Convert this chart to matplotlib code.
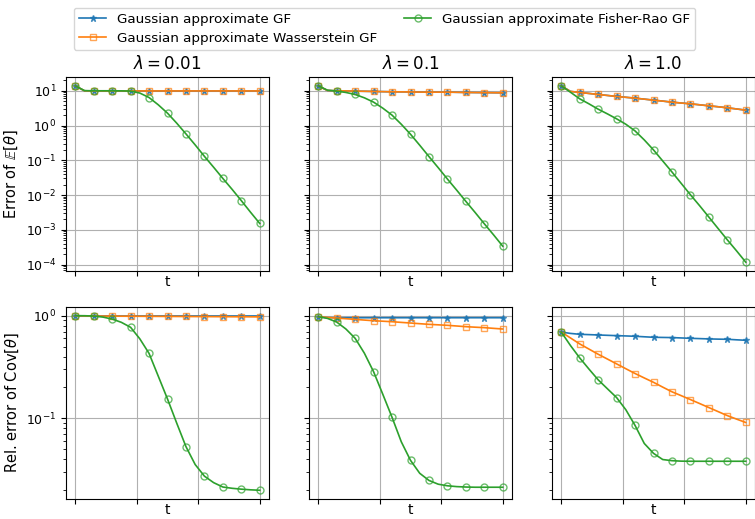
import matplotlib
matplotlib.use("Agg")
import matplotlib.pyplot as plt

# time grid (markers on every second point)
t = [0.0, 0.075, 0.15, 0.225, 0.3, 0.375, 0.45, 0.525, 0.6, 0.675, 0.75,
     0.825, 0.9, 0.975, 1.05, 1.125, 1.2, 1.275, 1.35, 1.425, 1.5]

lambdas = ["0.01", "0.1", "1.0"]
labels = ["Gaussian approximate GF", "Gaussian approximate Wasserstein GF",
          "Gaussian approximate Fisher-Rao GF"]

# error of E[theta]
mean_gf_001 = [13.9, 10.0, 9.9, 9.9, 9.9, 9.9, 9.9, 9.9, 9.9, 9.9, 9.9,
               9.9, 9.9, 9.9, 9.9, 9.9, 9.9, 9.9, 9.9, 9.9, 9.9]
mean_w_001 = [13.9, 10.0, 9.9, 9.9, 9.9, 9.9, 9.9, 9.9, 9.9, 9.9, 9.9,
              9.9, 9.9, 9.9, 9.9, 9.9, 9.9, 9.9, 9.9, 9.9, 9.9]
mean_fr_001 = [13.9, 10.1, 10.0, 10.0, 10.0, 9.95, 9.8, 8.6, 6.4, 3.95, 2.27,
               1.17, 0.575, 0.277, 0.13, 0.063, 0.030, 0.0146, 0.0069, 0.0032, 0.00152]

mean_gf_01 = [13.9, 10.2, 10.0, 9.9, 9.78, 9.68, 9.57, 9.46, 9.36, 9.31, 9.26,
              9.2, 9.15, 9.15, 9.15, 9.05, 8.95, 8.9, 8.85, 8.8, 8.75]
mean_w_01 = [13.9, 10.2, 10.0, 9.9, 9.78, 9.68, 9.57, 9.46, 9.36, 9.31, 9.26,
             9.2, 9.15, 9.15, 9.15, 9.05, 8.95, 8.9, 8.85, 8.8, 8.75]
mean_fr_01 = [13.9, 10.4, 9.8, 8.95, 7.84, 6.28, 4.71, 3.16, 1.99, 1.09, 0.562,
              0.271, 0.128, 0.0614, 0.0289, 0.0139, 0.00657, 0.00316, 0.00149, 0.000717, 0.000337]

mean_gf_1 = [13.9, 9.6, 8.95, 8.4, 7.84, 7.35, 6.86, 6.5, 6.14, 5.75, 5.38,
             5.05, 4.71, 4.45, 4.22, 3.95, 3.70, 3.47, 3.24, 3.0, 2.77]
mean_w_1 = [13.9, 9.6, 8.95, 8.4, 7.84, 7.35, 6.86, 6.5, 6.14, 5.75, 5.38,
            5.05, 4.71, 4.45, 4.22, 3.95, 3.70, 3.47, 3.24, 3.0, 2.77]
mean_fr_1 = [13.9, 9.1, 5.88, 4.22, 2.96, 2.17, 1.56, 1.09, 0.70, 0.386, 0.199,
             0.0956, 0.0461, 0.0217, 0.0102, 0.00493, 0.00232, 0.00109, 0.000514, 0.000248, 0.000117]

# relative error of Cov[theta]
cov_gf_001 = [1.0, 0.997, 0.995, 0.995, 0.995, 0.995, 0.995, 0.995, 0.995, 0.995, 0.995,
              0.995, 0.995, 0.995, 0.995, 0.995, 0.995, 0.995, 0.995, 0.995, 0.995]
cov_w_001 = [1.0, 0.996, 0.993, 0.992, 0.991, 0.99, 0.989, 0.988, 0.987, 0.986, 0.985,
             0.984, 0.983, 0.982, 0.981, 0.98, 0.979, 0.978, 0.977, 0.976, 0.975]
cov_fr_001 = [1.0, 1.0, 0.993, 0.970, 0.928, 0.862, 0.771, 0.595, 0.429, 0.257, 0.154,
              0.0895, 0.0528, 0.0353, 0.0272, 0.0235, 0.0213, 0.0207, 0.0203, 0.0200, 0.0198]

cov_gf_01 = [0.978, 0.958, 0.956, 0.956, 0.956, 0.956, 0.956, 0.956, 0.956, 0.956, 0.956,
             0.956, 0.956, 0.956, 0.956, 0.956, 0.956, 0.956, 0.956, 0.956, 0.956]
cov_w_01 = [0.978, 0.963, 0.949, 0.935, 0.921, 0.907, 0.894, 0.884, 0.874, 0.861, 0.849,
            0.836, 0.824, 0.815, 0.806, 0.794, 0.782, 0.773, 0.765, 0.753, 0.742]
cov_fr_01 = [0.978, 0.942, 0.868, 0.742, 0.602, 0.431, 0.284, 0.171, 0.102, 0.0589, 0.0388,
             0.029, 0.0247, 0.0227, 0.0219, 0.0215, 0.0213, 0.0212, 0.0212, 0.0212, 0.0212]

cov_gf_1 = [0.694, 0.672, 0.659, 0.654, 0.649, 0.644, 0.639, 0.635, 0.630, 0.623, 0.616,
            0.614, 0.612, 0.607, 0.602, 0.598, 0.594, 0.591, 0.589, 0.582, 0.576]
cov_w_1 = [0.694, 0.607, 0.531, 0.473, 0.421, 0.378, 0.339, 0.304, 0.273, 0.247, 0.224,
           0.201, 0.181, 0.166, 0.152, 0.139, 0.127, 0.116, 0.106, 0.098, 0.0908]
cov_fr_1 = [0.694, 0.512, 0.388, 0.302, 0.237, 0.194, 0.159, 0.121, 0.085, 0.0567, 0.0454,
            0.0395, 0.0385, 0.0381, 0.038, 0.038, 0.038, 0.038, 0.038, 0.038, 0.038]

mean_err = [[mean_gf_001, mean_w_001, mean_fr_001],
            [mean_gf_01, mean_w_01, mean_fr_01],
            [mean_gf_1, mean_w_1, mean_fr_1]]
cov_err = [[cov_gf_001, cov_w_001, cov_fr_001],
           [cov_gf_01, cov_w_01, cov_fr_01],
           [cov_gf_1, cov_w_1, cov_fr_1]]

colors = ["#1f77b4", "#ff7f0e", "#2ca02c"]
markers = ["*", "s", "o"]

fig = plt.figure(figsize=(7.55, 5.19), dpi=100)

lefts = [66/755, 309/755, 552/755]
w = 203/755
h = 194/519
ax_top = []
ax_bot = []
for i in range(3):
    a = fig.add_axes([lefts[i], 248/519, w, h], sharey=ax_top[0] if i else None)
    b = fig.add_axes([lefts[i], 20/519, w, 192/519], sharey=ax_bot[0] if i else None)
    ax_top.append(a)
    ax_bot.append(b)

def draw(ax, series):
    for k in range(3):
        c = matplotlib.colors.to_rgba(colors[k])
        fc = c if markers[k] == "*" else "none"
        ax.plot(t, series[k], color=colors[k], lw=1.2, marker=markers[k], markevery=2,
                ms=5, mfc=fc, mec=(c[0], c[1], c[2], 0.7),
                mew=1.0, label=labels[k])
    ax.set_yscale("log")
    ax.set_xticks([0, 0.5, 1.0, 1.5])
    ax.set_xticklabels([])
    ax.grid(True, which="major", color="#b0b0b0", lw=0.8)
    ax.tick_params(axis="y", labelsize=9)
    ax.set_xlabel("t", fontsize=10, labelpad=-4)

for i in range(3):
    draw(ax_top[i], mean_err[i])
    draw(ax_bot[i], cov_err[i])
    ax_top[i].set_title(r"$\lambda = %s$" % lambdas[i], fontsize=12)
    if i:
        ax_top[i].tick_params(axis="y", labelleft=False)
        ax_bot[i].tick_params(axis="y", labelleft=False)

ax_top[0].set_ylabel(r"Error of $\mathbb{E}[\theta]$", fontsize=10.5)
ax_bot[0].set_ylabel(r"Rel. error of Cov$[\theta]$", fontsize=10.5)

handles, labs = ax_top[0].get_legend_handles_labels()
fig.legend(handles, labs, loc="upper left", bbox_to_anchor=(67/755, 1 - 1/519),
           ncol=2, fontsize=9.7, frameon=True, labelspacing=0.4)

fig.savefig("out.png", dpi=100)
